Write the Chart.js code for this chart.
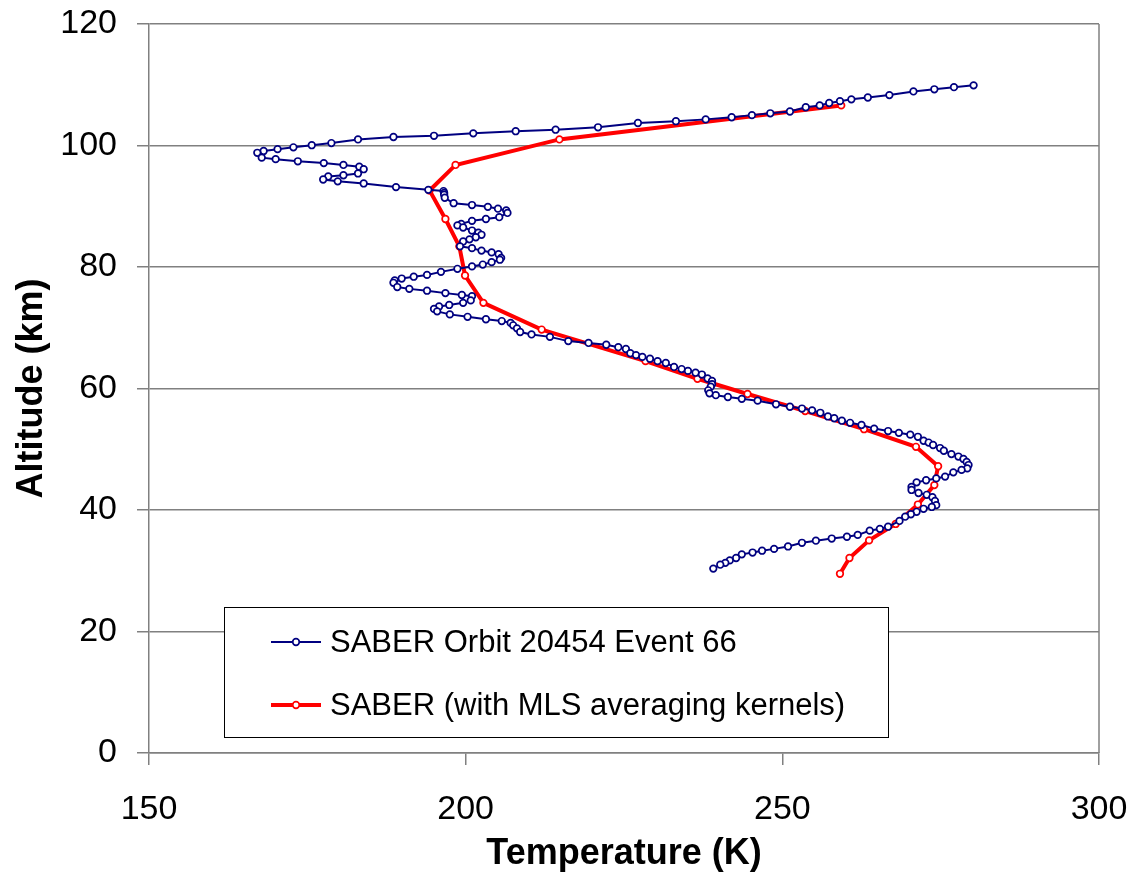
<!DOCTYPE html>
<html>
<head>
<meta charset="utf-8">
<script src="https://cdn.jsdelivr.net/npm/chart.js@4.4.1/dist/chart.umd.min.js"></script>
<style>
  html, body { margin: 0; padding: 0; background: #ffffff; }
  #wrap { width: 1136px; height: 879px; position: relative; }
</style>
</head>
<body>
<div id="wrap"><canvas id="c" width="1136" height="879"></canvas></div>
<script>
// ---- Data ----
const seriesNames = ["SABER Orbit 20454 Event 66", "SABER (with MLS averaging kernels)"];

const saberTemp = [280.2,277.1,274.0,270.7,266.9,263.5,260.9,259.1,257.4,255.9,
  253.7,251.2,248.1,245.2,242.0,237.9,233.2,227.2,220.9,214.2,
  207.9,201.2,195.0,188.6,183.0,178.8,175.7,172.8,170.3,168.1,
  167.1,167.8,170.0,173.5,177.6,180.7,183.2,183.9,183.0,180.7,
  178.3,177.5,179.8,183.9,189.0,194.1,196.5,196.6,196.6,196.7,
  198.1,201.0,203.5,205.1,206.4,206.6,205.3,203.2,201.0,199.3,
  198.7,199.6,201.0,202.0,202.5,201.6,200.6,199.6,199.1,201.0,
  202.5,204.1,205.2,205.6,205.4,204.1,202.7,201.0,198.7,196.1,
  193.9,191.8,189.9,188.8,188.6,189.2,191.1,193.9,196.8,199.4,
  201.0,200.8,199.6,197.4,195.8,195.0,195.5,197.5,200.3,203.2,
  205.7,207.1,207.5,208.1,208.6,210.4,213.3,216.2,219.4,222.2,
  224.1,225.3,226.0,226.9,227.9,229.1,230.3,231.6,232.9,234.1,
  235.1,236.3,237.3,238.2,238.9,238.9,238.7,238.3,238.5,239.5,
  241.4,243.6,246.1,249.0,251.2,253.1,254.7,256.0,257.2,258.2,
  259.4,260.7,262.5,264.5,266.7,268.4,270.2,271.4,272.3,273.1,
  273.8,274.9,275.5,276.7,277.8,278.6,279.1,279.4,279.2,278.3,
  277.0,275.7,274.3,272.7,271.2,270.4,270.4,271.5,272.8,273.7,
  274.1,274.3,273.6,272.3,271.2,270.3,269.4,268.5,266.7,265.4,
  263.8,261.9,260.2,257.8,255.3,253.1,250.9,248.7,246.8,245.3,
  243.6,242.7,241.7,241.0,240.2,239.1];

const saberAlt = [109.9,109.6,109.25,108.9,108.3,107.9,107.6,107.3,107.0,106.6,
  106.3,105.6,105.3,105.0,104.65,104.3,104.0,103.7,103.0,102.6,
  102.35,102.0,101.6,101.4,101.0,100.4,100.05,99.7,99.4,99.1,
  98.8,98.0,97.75,97.4,97.1,96.8,96.5,96.1,95.4,95.1,
  94.9,94.4,94.1,93.75,93.15,92.7,92.5,92.2,91.9,91.4,
  90.5,90.2,89.9,89.6,89.3,88.9,88.2,87.9,87.6,87.1,
  86.85,86.5,86.0,85.65,85.3,84.9,84.55,84.2,83.4,83.1,
  82.7,82.4,82.1,81.5,81.2,80.8,80.4,80.1,79.7,79.2,
  78.7,78.4,78.1,77.8,77.4,76.7,76.4,76.1,75.7,75.4,
  75.2,74.5,74.1,73.75,73.5,73.1,72.7,72.2,71.8,71.4,
  71.1,70.8,70.4,69.9,69.3,68.9,68.5,67.8,67.5,67.2,
  66.8,66.5,65.8,65.5,65.2,64.9,64.5,64.2,63.55,63.2,
  62.9,62.6,62.3,61.65,61.25,60.7,60.3,59.7,59.2,58.9,
  58.6,58.3,58.0,57.4,57.0,56.7,56.4,56.0,55.4,55.1,
  54.7,54.35,54.0,53.4,53.0,52.7,52.4,52.05,51.4,51.1,
  50.7,50.2,49.75,49.2,48.8,48.4,47.9,47.4,46.85,46.6,
  46.2,45.5,45.2,44.9,44.55,43.8,43.3,42.8,42.5,42.1,
  41.5,40.8,40.5,40.2,39.7,39.3,38.9,38.2,37.25,36.9,
  36.6,35.9,35.6,35.3,34.95,34.6,34.0,33.6,33.3,33.0,
  32.7,32.1,31.7,31.3,31.0,30.35];

const mlsTemp = [259.3,214.8,198.4,194.3,196.8,199.0,199.9,202.8,212.0,228.4,
  236.6,244.5,253.6,262.9,271.1,274.6,274.0,271.4,267.9,263.7,260.6,259.1];
const mlsAlt  = [106.6,101.0,96.8,92.6,87.9,83.4,78.6,74.1,69.7,64.5,
  61.6,59.1,56.3,53.3,50.4,47.2,44.1,40.9,37.7,35.0,32.1,29.5];

const xTicks = [150, 200, 250, 300];
const yTicks = [0, 20, 40, 60, 80, 100, 120];

// ---- Build ----
const toPts = (xs, ys) => xs.map((x, i) => ({ x: x, y: ys[i] }));
const FONT = "'Liberation Sans', Arial, Helvetica, sans-serif";

const borderPlugin = {
  id: 'plotBorder',
  beforeDatasetsDraw(chart) {
    const a = chart.chartArea, ctx = chart.ctx;
    ctx.save();
    ctx.strokeStyle = '#808080';
    ctx.lineWidth = 1.5;
    ctx.beginPath();
    ctx.moveTo(a.right, a.top);
    ctx.lineTo(a.right, a.bottom);
    ctx.stroke();
    ctx.restore();
  }
};

const boxLegend = {
  id: 'boxLegend',
  afterDraw(chart, args, opts) {
    const ctx = chart.ctx;
    const b = opts.box;
    ctx.save();
    ctx.fillStyle = '#ffffff';
    ctx.fillRect(b.x, b.y, b.w, b.h);
    ctx.strokeStyle = '#000000';
    ctx.lineWidth = 1;
    ctx.strokeRect(b.x + 0.5, b.y + 0.5, b.w, b.h);
    chart.data.datasets.forEach((ds, i) => {
      const y = opts.rows[i];
      ctx.strokeStyle = ds.borderColor;
      ctx.lineWidth = ds.borderWidth;
      ctx.beginPath();
      ctx.moveTo(opts.lineX0, y);
      ctx.lineTo(opts.lineX1, y);
      ctx.stroke();
      ctx.beginPath();
      ctx.arc((opts.lineX0 + opts.lineX1) / 2, y, ds.pointRadius, 0, Math.PI * 2);
      ctx.fillStyle = ds.pointBackgroundColor;
      ctx.fill();
      ctx.lineWidth = ds.pointBorderWidth;
      ctx.strokeStyle = ds.pointBorderColor;
      ctx.stroke();
      ctx.fillStyle = '#000000';
      ctx.font = opts.font;
      ctx.textBaseline = 'middle';
      ctx.textAlign = 'left';
      ctx.fillText(ds.label, opts.textX, y + 1);
    });
    ctx.restore();
  }
};

new Chart(document.getElementById('c'), {
  type: 'scatter',
  data: {
    datasets: [
      {
        label: seriesNames[0],
        data: toPts(saberTemp, saberAlt),
        showLine: true,
        borderColor: '#000080',
        borderWidth: 2,
        pointRadius: 3.3,
        pointBorderWidth: 1.7,
        pointBorderColor: '#000080',
        pointBackgroundColor: '#ffffff',
        backgroundColor: '#ffffff',
        tension: 0
      },
      {
        label: seriesNames[1],
        data: toPts(mlsTemp, mlsAlt),
        showLine: true,
        borderColor: '#ff0000',
        borderWidth: 4,
        pointRadius: 3.3,
        pointBorderWidth: 1.7,
        pointBorderColor: '#ff0000',
        pointBackgroundColor: '#ffffff',
        backgroundColor: '#ffffff',
        tension: 0
      }
    ]
  },
  options: {
    responsive: false,
    animation: false,
    devicePixelRatio: 1,
    layout: { padding: { top: 24, right: 37, left: 0, bottom: 0 } },
    plugins: {
      legend: { display: false },
      tooltip: { enabled: false },
      boxLegend: {
        box: { x: 224, y: 607, w: 664, h: 130 },
        rows: [642, 705],
        lineX0: 271, lineX1: 321,
        textX: 330,
        font: "31px " + FONT
      }
    },
    scales: {
      x: {
        type: 'linear',
        min: 150, max: 300,
        afterFit(s) { s.height = 126; s.paddingLeft = 0; s.paddingRight = 0; },
        afterBuildTicks(s) { s.ticks = xTicks.map(v => ({ value: v })); },
        ticks: { color: '#000000', font: { family: FONT, size: 34 }, padding: 24, maxRotation: 0 },
        grid: { drawOnChartArea: false, drawTicks: true, tickLength: 12, color: '#808080', lineWidth: 1.5 },
        border: { display: true, color: '#808080', width: 1.5 },
        title: { display: true, text: 'Temperature (K)', color: '#000000',
                 font: { family: FONT, size: 36, weight: 'bold' }, padding: { top: 0, bottom: 3 } }
      },
      y: {
        type: 'linear',
        min: 0, max: 120,
        afterFit(s) { s.width = 149; s.paddingTop = 0; s.paddingBottom = 0; },
        afterBuildTicks(s) { s.ticks = yTicks.map(v => ({ value: v })); },
        ticks: { color: '#000000', font: { family: FONT, size: 34 }, padding: 20 },
        grid: { drawOnChartArea: true, drawTicks: true, tickLength: 12, color: '#808080', lineWidth: 1.5 },
        border: { display: true, color: '#808080', width: 1.5 },
        title: { display: true, text: 'Altitude (km)', color: '#000000',
                 font: { family: FONT, size: 36, weight: 'bold' }, padding: { top: 10, bottom: 0 } }
      }
    }
  },
  plugins: [borderPlugin, boxLegend]
});
</script>
</body>
</html>
